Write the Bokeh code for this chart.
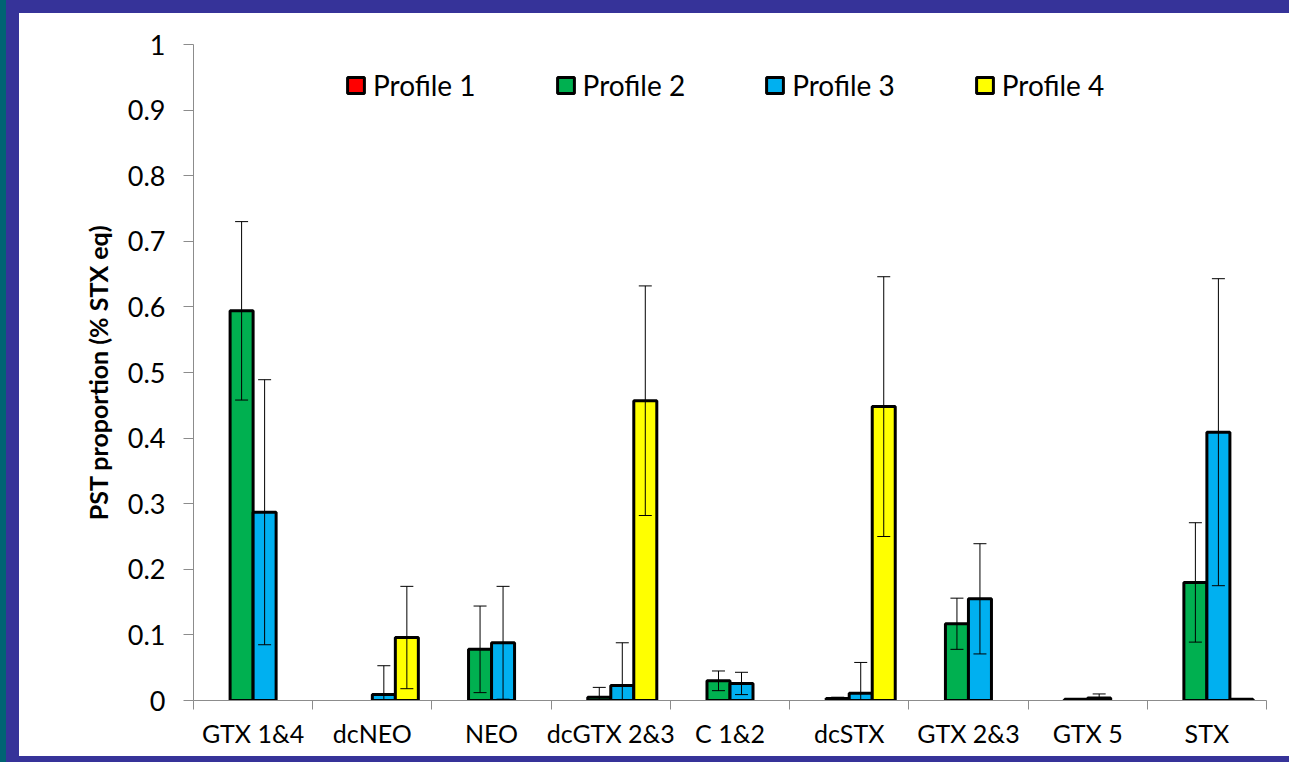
from bokeh.plotting import figure
from bokeh.models import (Range1d, FixedTicker, CustomJSTickFormatter, Legend,
                          LegendItem)
from bokeh.embed import file_html
from bokeh.resources import INLINE

# Toxin analogues on the x axis
toxins = ["GTX 1&4", "dcNEO", "NEO", "dcGTX 2&3", "C 1&2", "dcSTX", "GTX 2&3", "GTX 5", "STX"]

profiles = ["Profile 1", "Profile 2", "Profile 3", "Profile 4"]
profile_colors = ["#FF0000", "#00B050", "#00B0F0", "#FFFF00"]

# Mean proportion per toxin for each profile
profile1 = [0, 0, 0, 0, 0, 0, 0, 0, 0]
profile2 = [0.594, 0, 0.078, 0.005, 0.030, 0.003, 0.117, 0.002, 0.180]
profile3 = [0.287, 0.009, 0.088, 0.023, 0.026, 0.011, 0.155, 0.004, 0.409]
profile4 = [0, 0.096, 0, 0.457, 0, 0.448, 0, 0, 0.002]

# Standard deviations (error bars)
profile1_sd = [0, 0, 0, 0, 0, 0, 0, 0, 0]
profile2_sd = [0.136, 0, 0.066, 0.015, 0.015, 0.002, 0.039, 0.001, 0.091]
profile3_sd = [0.202, 0.044, 0.086, 0.065, 0.017, 0.047, 0.084, 0.006, 0.234]
profile4_sd = [0, 0.078, 0, 0.175, 0, 0.198, 0, 0, 0]

y_ticks = [k / 10 for k in range(11)]

means = [profile1, profile2, profile3, profile4]
sds = [profile1_sd, profile2_sd, profile3_sd, profile4_sd]

FONT = "Lato"
AXIS_GREY = "#8C8C8C"
BAR_W = 0.193

# White chart panel inside a dark blue slide frame with a teal edge
p = figure(width=1270, height=743, output_backend="svg", toolbar_location=None,
           x_range=Range1d(0, len(toxins)), y_range=Range1d(0, 1),
           min_border_left=174, min_border_right=23, min_border_top=31,
           min_border_bottom=56, margin=(13, 0, 0, 19),
           styles={"box-shadow": "0 0 0 13px #363399, -13px 0 0 13px #006373"})
p.border_fill_color = "white"
p.background_fill_color = "white"
p.outline_line_color = None
p.xgrid.grid_line_color = None
p.ygrid.grid_line_color = None

n = len(profiles)
legend_items = []
for j, (name, color, vals) in enumerate(zip(profiles, profile_colors, means)):
    off = (j - (n - 1) / 2) * BAR_W
    all_x = [i + 0.5 + off for i in range(len(vals))]
    xs = [x for x, v in zip(all_x, vals) if v > 0]
    tops = [v for v in vals if v > 0]
    style = dict(width=BAR_W, fill_color=color, line_color="black", line_width=3)
    p.vbar(x=xs, top=tops, bottom=0, **style)
    # hidden full series, used only as the legend key
    key = p.vbar(x=all_x, top=vals, bottom=0, visible=False, **style)
    legend_items.append(LegendItem(label=name, renderers=[key]))

# Error bars drawn over the bars
for j, (vals, errs) in enumerate(zip(means, sds)):
    off = (j - (n - 1) / 2) * BAR_W
    ex, lo, hi = [], [], []
    for i, (v, e) in enumerate(zip(vals, errs)):
        if v > 0 and e > 0:
            ex.append(i + 0.5 + off)
            lo.append(v - e)
            hi.append(v + e)
    p.segment(x0=ex, y0=lo, x1=ex, y1=hi, line_color="black", line_width=1)
    cap_x = ex + [x for x, l in zip(ex, lo) if l >= 0]
    cap_y = hi + [l for l in lo if l >= 0]
    p.scatter(x=cap_x, y=cap_y, marker="dash", size=13, line_color="black",
              line_width=1)

legend = Legend(items=legend_items, orientation="horizontal", location=(152, 598),
                spacing=79, glyph_width=21, glyph_height=20, label_standoff=7,
                label_text_font=FONT, label_text_font_size="28px",
                label_text_color="black", border_line_color=None,
                background_fill_alpha=0, inactive_fill_alpha=0,
                click_policy="none", padding=0, margin=0)
p.add_layout(legend)

# x axis: labels at category centres, tick marks between categories
xa = p.xaxis[0]
xa.ticker = FixedTicker(ticks=[i + 0.5 for i in range(len(toxins))],
                        minor_ticks=list(range(len(toxins) + 1)))
xa.major_label_overrides = {i + 0.5: t for i, t in enumerate(toxins)}
xa.major_tick_out = 0
xa.major_tick_in = 0
xa.minor_tick_out = 9
xa.minor_tick_in = 0
xa.minor_tick_line_color = AXIS_GREY
xa.axis_line_color = AXIS_GREY
xa.major_label_text_font = FONT
xa.major_label_text_font_size = "25px"
xa.major_label_text_color = "black"
xa.major_label_standoff = 8

ya = p.yaxis[0]
ya.ticker = FixedTicker(ticks=y_ticks, minor_ticks=[])
ya.formatter = CustomJSTickFormatter(code="return String(Math.round(tick * 10) / 10);")
ya.major_tick_out = 10
ya.major_tick_in = 0
ya.major_tick_line_color = AXIS_GREY
ya.axis_line_color = AXIS_GREY
ya.major_label_text_font = FONT
ya.major_label_text_font_size = "27px"
ya.major_label_text_color = "black"
ya.major_label_standoff = 18
ya.axis_label = "PST proportion (% STX eq)"
ya.axis_label_text_font = FONT
ya.axis_label_text_font_style = "bold"
ya.axis_label_text_font_size = "25px"
ya.axis_label_text_color = "black"
ya.axis_label_standoff = 12

open("out.html", "w").write(file_html(p, INLINE))
